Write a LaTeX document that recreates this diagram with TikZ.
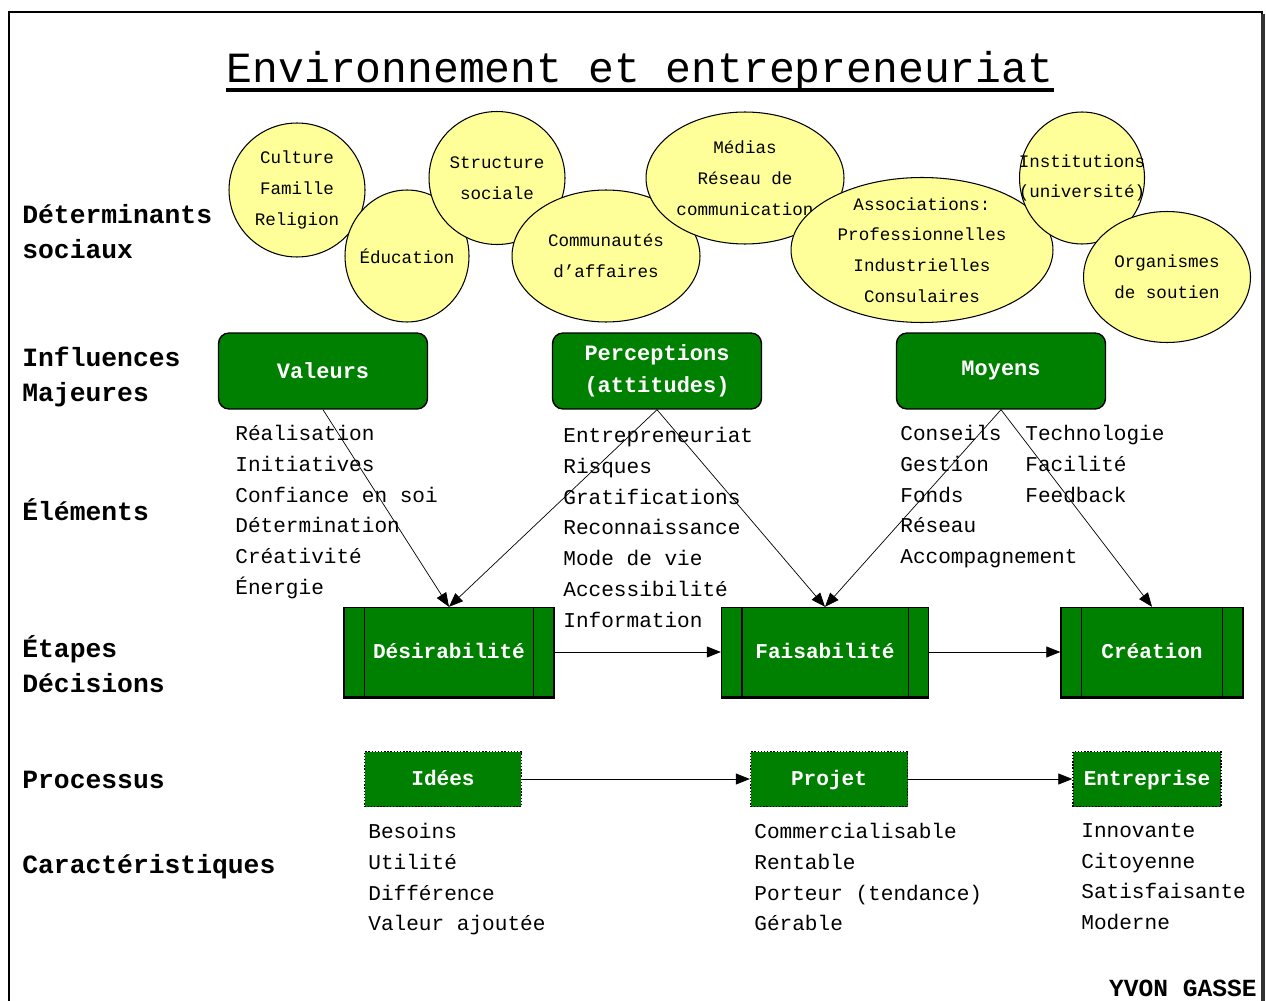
\documentclass[tikz,border=0pt]{standalone}
\usepackage{fontspec}
\setmainfont{Liberation Mono}
\usetikzlibrary{shapes.geometric,arrows.meta}
\definecolor{vert}{HTML}{008000}
\definecolor{jaune}{HTML}{FFFF99}

\begin{document}
\begin{tikzpicture}[x=0.02cm,y=-0.02cm,
   bulle/.style={ellipse,draw,line width=0.6pt,fill=jaune,inner sep=-30pt,align=center,font=\fontsize{10}{17.5}\selectfont},
   influence/.style={draw,fill=vert,rounded corners=6pt,line width=0.8pt,text=white,align=center,
     font=\bfseries\fontsize{12.5}{18}\selectfont,minimum width=4.18cm,minimum height=1.52cm},
   etape/.style={draw,fill=vert,line width=0.8pt,text=white,font=\bfseries\fontsize{12}{16}\selectfont,
     text height=1.6ex,text depth=0.3ex,minimum height=1.78cm},
   processus/.style={draw,densely dotted,fill=vert,line width=0.8pt,text=white,
     font=\bfseries\fontsize{12}{16}\selectfont,text height=1.6ex,text depth=0.3ex,minimum height=1.1cm},
   liste/.style={anchor=north west,align=left,inner sep=0pt,font=\fontsize{12}{17.5}\selectfont},
   rubrique/.style={anchor=west,align=left,inner sep=0pt,font=\bfseries\fontsize{15}{20}\selectfont},
   fleche/.style={-{Triangle[length=0.28cm,width=0.22cm]},thin}]
\useasboundingbox (0,0) rectangle (1266,1000);
\clip (0,0) rectangle (1266,1000);

% cadre et titre
\draw[line width=1pt] (9,1010) |- (1262,12) -- (1262,1010);
\draw[line width=2.5pt,black!80] (1263,14) -- (1263,1010);
\node[inner sep=0pt,font=\fontsize{24.5}{30}\selectfont] (titre) at (640,71) {Environnement et entrepreneuriat};
\draw[line width=2.3pt] ([yshift=-4.5pt]titre.base west) -- ([yshift=-4.5pt]titre.base east);

% rubriques
\node[rubrique] (determinants) at (22,232) {Déterminants\\sociaux};
\node[rubrique] (influences) at (22,377) {Influences\\Majeures};
\node[rubrique] (elements) at (22,510) {Éléments};
\node[rubrique] (etapes) at (22,664) {Étapes\\Décisions};
\node[rubrique] (processus) at (22,780) {Processus};
\node[rubrique] (caract) at (22,867) {Caractéristiques};

% determinants sociaux
\node[bulle,minimum width=2.72cm,minimum height=2.68cm] (culture) at (297,190) {Culture\\Famille\\Religion};
\node[bulle,minimum width=2.48cm,minimum height=2.64cm] (education) at (407,256) {Éducation};
\node[bulle,minimum width=2.72cm,minimum height=2.66cm] (structure) at (497,178) {Structure\\sociale};
\node[bulle,minimum width=3.76cm,minimum height=2.64cm] (communautes) at (606,256) {Communautés\\d'affaires};
\node[bulle,minimum width=3.96cm,minimum height=2.64cm] (medias) at (745,178) {Médias\\Réseau de\\communication};
\node[bulle,minimum width=5.24cm,minimum height=2.9cm] (associations) at (922,250) {Associations:\\Professionnelles\\Industrielles\\Consulaires};
\node[bulle,minimum width=2.5cm,minimum height=2.64cm] (institutions) at (1082,178) {Institutions\\(université)};
\node[bulle,minimum width=3.34cm,minimum height=2.62cm] (organismes) at (1167,277) {Organismes\\de soutien};

% influences majeures
\node[influence] (valeurs) at (323,371) {Valeurs};
\node[influence] (perceptions) at (657,371) {Perceptions\\(attitudes)};
\node[influence] (moyens) at (1001,371) {Moyens};

\node[liste] (lvaleurs) at (235,425) {Réalisation\\Initiatives\\Confiance en soi\\Détermination\\Créativité\\Énergie};
\node[liste] (lperceptions) at (563,427) {Entrepreneuriat\\Risques\\Gratifications\\Reconnaissance\\Mode de vie\\Accessibilité\\Information};
\node[liste] (lmoyens) at (900,425) {Conseils\\Gestion\\Fonds\\Réseau\\Accompagnement};
\node[liste] (lmoyens2) at (1025,425) {Technologie\\Facilité\\Feedback};

% etapes
\node[etape,minimum width=4.2cm] (desir) at (449,652) {Désirabilité};
\node[etape,minimum width=4.14cm] (faisab) at (825,652) {Faisabilité};
\node[etape,minimum width=3.64cm] (creation) at (1152,652) {Création};
\foreach \n in {desir,faisab,creation}{
  \draw[line width=0.8pt] ([xshift=0.42cm]\n.north west) -- ([xshift=0.42cm]\n.south west);
  \draw[line width=0.8pt] ([xshift=-0.42cm]\n.north east) -- ([xshift=-0.42cm]\n.south east);
  \draw[line width=1.6pt] (\n.south west) -- (\n.south east);
}

\draw[fleche] (valeurs.south) -- (desir.north);
\draw[fleche] (perceptions.south) -- (desir.north);
\draw[fleche] (perceptions.south) -- (faisab.north);
\draw[fleche] (moyens.south) -- (faisab.north);
\draw[fleche] (moyens.south) -- (creation.north);
\draw[fleche] (desir) -- (faisab);
\draw[fleche] (faisab) -- (creation);

% processus
\node[processus,minimum width=3.14cm] (idees) at (443,779) {Idées};
\node[processus,minimum width=3.14cm] (projet) at (829,779) {Projet};
\node[processus,minimum width=2.96cm] (entreprise) at (1147,779) {Entreprise};
\draw[fleche] (idees) -- (projet);
\draw[fleche] (projet) -- (entreprise);

\node[liste] (lidees) at (368,823) {Besoins\\Utilité\\Différence\\Valeur ajoutée};
\node[liste] (lprojet) at (754,823) {Commercialisable\\Rentable\\Porteur (tendance)\\Gérable};
\node[liste] (lentreprise) at (1081,823) {Innovante\\Citoyenne\\Satisfaisante\\Moderne};

\node[anchor=east,inner sep=0pt,font=\bfseries\fontsize{14}{16}\selectfont] (auteur) at (1257,988) {YVON GASSE};
\end{tikzpicture}
\end{document}
